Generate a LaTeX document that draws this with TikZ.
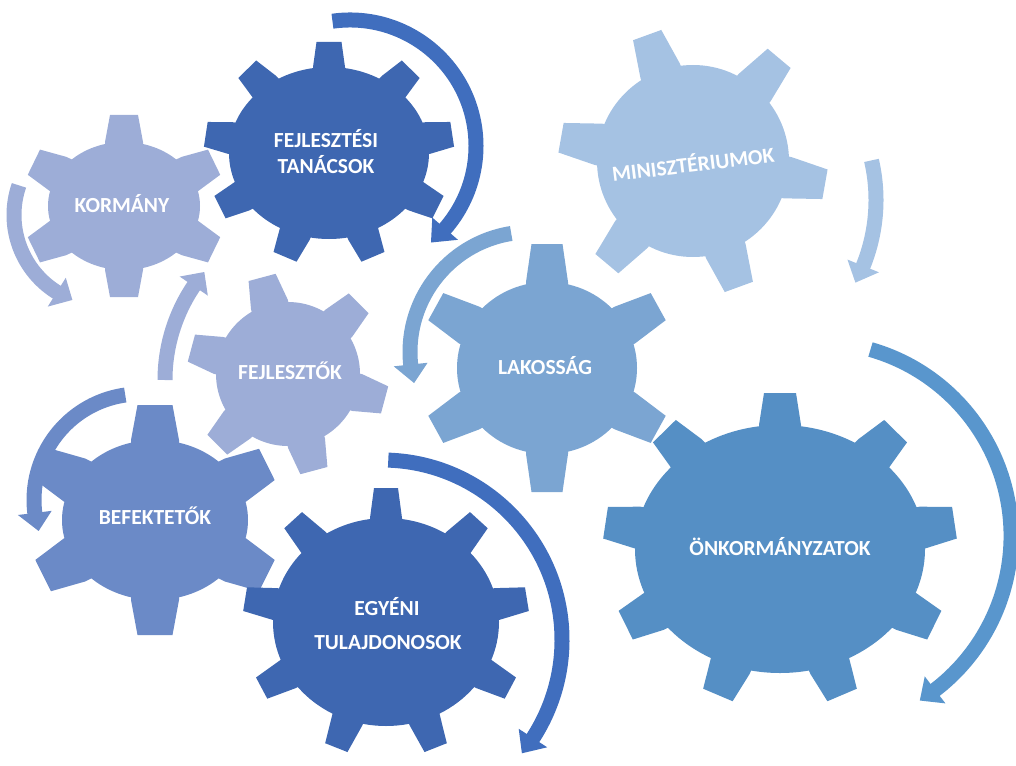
\documentclass[tikz,border=0pt]{standalone}
\usepackage{fontspec}
\setmainfont{Carlito}
\definecolor{ckor}{RGB}{157,173,215}
\definecolor{cdark}{RGB}{62,103,177}
\definecolor{cmin}{RGB}{165,194,227}
\definecolor{clak}{RGB}{123,165,210}
\definecolor{cbef}{RGB}{107,138,199}
\definecolor{conk}{RGB}{85,143,197}
\definecolor{carrdark}{RGB}{64,110,190}
\definecolor{carronk}{RGB}{89,150,205}
% gear: #1 fill colour, #2 cx, #3 cy, #4 rx, #5 ry, #6 tooth height, #7 tip half width, #8 base half width, #9 teeth
\def\gearrot{-90}
\newcommand{\mygear}[9]{%
  \fill[#1] (#2,#3) ellipse [x radius=#4, y radius=#5];
  \foreach \k in {1,...,#9} {%
    \pgfmathsetmacro\ang{\gearrot+360/#9*(\k-1)}%
    \pgfmathsetmacro\bet{-atan2(#5*sin(\ang), #4*cos(\ang))}%
    \fill[#1, shift={(#2,#3)}, shift={(\ang:#4 and #5)}, rotate=\bet]
      (-18,-#8) -- (0,-#8) -- (#6,-#7) -- (#6,#7) -- (0,#8) -- (-18,#8) -- cycle;
  }%
}
% circular arrow: #1 centre, #2 radius, #3 start angle, #4 head base angle, #5 tip angle, #6 colour
\newcommand{\myarrow}[6]{%
  \pgfmathsetmacro\aend{#4+0.15*(#5-#4)}%
  \draw[band, draw=#6] ([shift={(#3:#2)}]#1) arc[start angle=#3, end angle=\aend, radius=#2];
  \fill[#6] ([shift={({#4}:{#2-17})}]#1) -- ([shift={({#5}:{#2})}]#1) -- ([shift={({#4}:{#2+17})}]#1) -- cycle;
}
\begin{document}
\begin{tikzpicture}[x=1pt,y=-1pt,
  lbl/.style={text=white, font=\fontsize{21.5}{26}\selectfont\bfseries, inner sep=0pt},
  band/.style={line width=15pt}]
\useasboundingbox (0,0) rectangle (1016,765);

% gears
\mygear{ckor}{124}{206}{76}{64}{27}{14}{19}{6}
\mygear{cdark}{329}{153}{100}{86}{25}{12.5}{16}{9}
\def\gearrot{-110}
\mygear{cmin}{693}{161}{96}{96}{38}{15}{21}{6}
\def\gearrot{-105}
\mygear{ckor}{288}{374}{72}{72}{28}{14}{19}{6}
\def\gearrot{-90}
\mygear{clak}{547}{368}{90}{86}{38}{15.5}{21}{6}
\mygear{cbef}{155}{520}{93}{80}{35}{17.5}{24}{6}
\mygear{cdark}{386}{622}{113}{104}{30}{12}{16}{9}
\mygear{conk}{780}{549}{145}{124}{32}{16}{21}{9}

% arrow centres
\coordinate (a1) at (350,146);
\coordinate (a2) at (105,215);
\coordinate (a3) at (333,380);
\coordinate (a4) at (140,500);
\coordinate (a5) at (530,352);
\coordinate (a6) at (700,200);
\coordinate (a7) at (817,536);
\coordinate (a8) at (382,640);

\myarrow{a1}{126}{-98}{41}{50}{carrdark}
\myarrow{a2}{91}{199}{122}{111}{ckor}
\myarrow{a3}{168}{180}{214}{220}{ckor}
\myarrow{a4}{106}{262}{173}{163}{cbef}
\myarrow{a5}{120}{261}{174}{165}{clak}
\myarrow{a6}{176}{-13}{22}{28}{cmin}
\myarrow{a7}{194}{-74}{52.5}{58}{carronk}
\myarrow{a8}{180}{-88}{33}{39}{carrdark}

% labels
\node[lbl, anchor=base] (kor) at (122,212) {KORMÁNY};
\node[lbl, anchor=base] (ft1) at (326,147) {FEJLESZTÉSI};
\node[lbl, anchor=base] (ft2) at (326,173) {TANÁCSOK};
\node[lbl, rotate=7] (min) at (693,163) {MINISZTÉRIUMOK};
\node[lbl, anchor=base] (fejl) at (290,379) {FEJLESZTŐK};
\node[lbl, anchor=base] (lak) at (545,374) {LAKOSSÁG};
\node[lbl, anchor=base] (bef) at (155,524) {BEFEKTETŐK};
\node[lbl, anchor=base] (egy1) at (387,615) {EGYÉNI};
\node[lbl, anchor=base] (egy2) at (388,649) {TULAJDONOSOK};
\node[lbl, anchor=base] (onk) at (780,555) {ÖNKORMÁNYZATOK};
\end{tikzpicture}
\end{document}
